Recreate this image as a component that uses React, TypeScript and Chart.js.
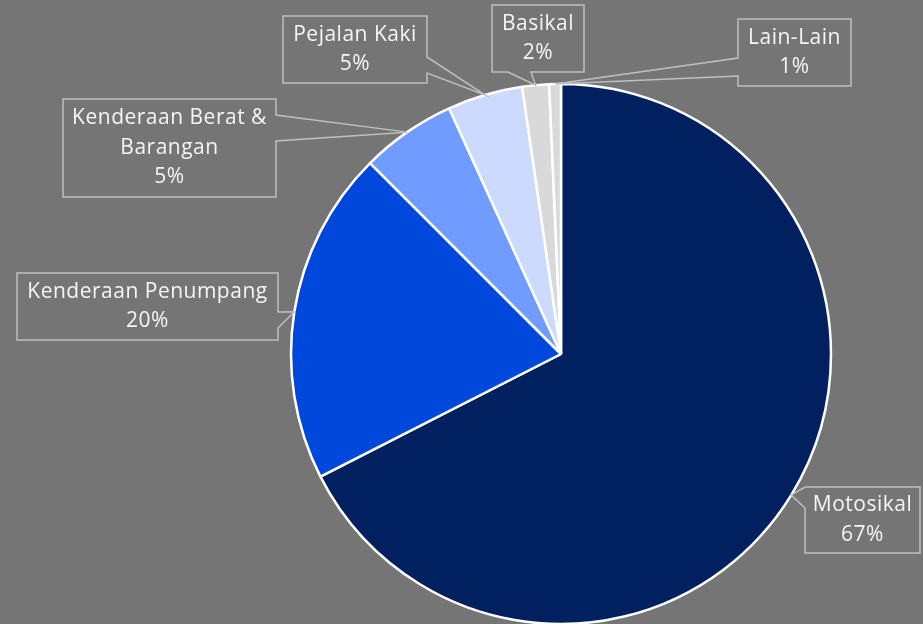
import React, { useEffect, useRef } from "react";
import { Chart, registerables } from "chart.js";

Chart.register(...registerables);

const categories = [
  "Motosikal",
  "Kenderaan Penumpang",
  "Kenderaan Berat & Barangan",
  "Pejalan Kaki",
  "Basikal",
  "Lain-Lain",
];
const shares = [67.5, 20.0, 5.7, 4.5, 1.6, 0.7];
const percentLabels = ["67%", "20%", "5%", "5%", "2%", "1%"];
const labelLines = [
  ["Motosikal"],
  ["Kenderaan Penumpang"],
  ["Kenderaan Berat &", "Barangan"],
  ["Pejalan Kaki"],
  ["Basikal"],
  ["Lain-Lain"],
];
const sliceColors = ["#002060", "#0047DC", "#709CFF", "#CCDAFF", "#D9D9D9", "#D9D9D9"];

const BG = "#757575";

// callout layout (box + wedge side/range)
const callouts = [
  { x: 805, y: 487, w: 115, h: 66, side: "left", a: 487, b: 508 },
  { x: 17, y: 273, w: 261, h: 67, side: "right", a: 312, b: 328 },
  { x: 63, y: 99, w: 213, h: 98, side: "right", a: 115, b: 141 },
  { x: 283, y: 16, w: 144, h: 67, side: "right", a: 57, b: 73 },
  { x: 492, y: 5, w: 92, h: 67, side: "bottom", a: 508, b: 531 },
  { x: 738, y: 19, w: 113, h: 67, side: "left", a: 58, b: 76 },
];

const calloutPlugin = {
  id: "callouts",
  afterDatasetsDraw(chart: any) {
    const ctx = chart.ctx;
    const meta = chart.getDatasetMeta(0);
    meta.data.forEach((arc: any, i: number) => {
      const p = arc.getProps(["x", "y", "startAngle", "endAngle", "outerRadius"], true);
      const mid = (p.startAngle + p.endAngle) / 2;
      const tx = p.x + Math.cos(mid) * p.outerRadius;
      const ty = p.y + Math.sin(mid) * p.outerRadius;
      const c = callouts[i];
      const L = c.x, T = c.y, R = c.x + c.w, B = c.y + c.h;
      ctx.save();
      ctx.beginPath();
      ctx.moveTo(L, T);
      ctx.lineTo(R, T);
      if (c.side === "right") {
        ctx.lineTo(R, c.a);
        ctx.lineTo(tx, ty);
        ctx.lineTo(R, c.b);
      }
      ctx.lineTo(R, B);
      if (c.side === "bottom") {
        ctx.lineTo(c.b, B);
        ctx.lineTo(tx, ty);
        ctx.lineTo(c.a, B);
      }
      ctx.lineTo(L, B);
      if (c.side === "left") {
        ctx.lineTo(L, c.b);
        ctx.lineTo(tx, ty);
        ctx.lineTo(L, c.a);
      }
      ctx.closePath();
      ctx.strokeStyle = "#BFBFBF";
      ctx.lineWidth = 1.5;
      ctx.lineJoin = "miter";
      ctx.stroke();

      const lines = [...labelLines[i], percentLabels[i]];
      const lh = 29.5;
      const cy = (T + B) / 2;
      const startY = cy - ((lines.length - 1) * lh) / 2;
      ctx.fillStyle = "#F5F5F5";
      ctx.font = '21px "Open Sans"';
      (ctx as any).letterSpacing = "0.5px";
      ctx.textAlign = "center";
      ctx.textBaseline = "middle";
      lines.forEach((t, k) => {
        ctx.fillText(t, (L + R) / 2, startY + k * lh);
      });
      ctx.restore();
    });
  },
};

export default function App() {
  const ref = useRef<HTMLCanvasElement>(null);
  useEffect(() => {
    document.body.style.margin = "0";
    document.body.style.background = BG;
    const chart = new Chart(ref.current!, {
      type: "pie",
      data: {
        labels: categories,
        datasets: [
          {
            data: shares,
            backgroundColor: sliceColors,
            borderColor: "#FFFFFF",
            borderWidth: 2.5,
          },
        ],
      },
      options: {
        animation: false,
        responsive: false,
        maintainAspectRatio: false,
        layout: { padding: { left: 250, right: 51, top: 84, bottom: 0 } },
        radius: 270,
        plugins: {
          legend: { display: false },
          tooltip: { enabled: false },
        },
      } as any,
      plugins: [calloutPlugin],
    });
    return () => chart.destroy();
  }, []);
  return (
    <div style={{ width: 923, height: 624, background: BG }}>
      <canvas ref={ref} width={923} height={624} style={{ display: "block" }} />
    </div>
  );
}
